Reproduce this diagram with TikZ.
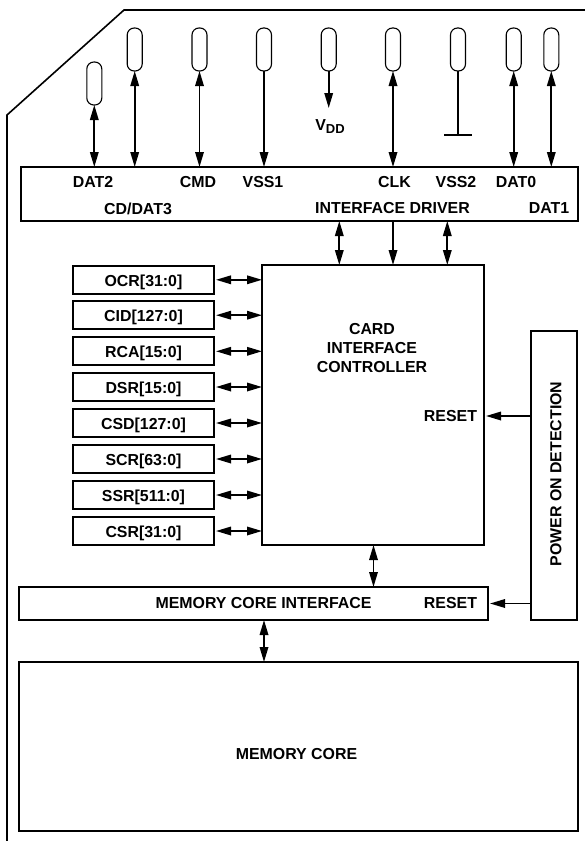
\documentclass[tikz,border=0pt]{standalone}
\usepackage{fontspec}
\setmainfont{Liberation Sans}
\usetikzlibrary{arrows.meta}
\tikzset{
  blockbox/.style={draw=black, fill=white, line width=1.7pt, rectangle, inner sep=0pt, outer sep=0pt},
  pinbox/.style={draw=black, fill=white, line width=1.1pt, rectangle, rounded corners=7pt, minimum width=15pt, minimum height=43pt, inner sep=0pt, outer sep=0pt},
  regbox/.style={blockbox, minimum width=141pt, minimum height=28pt, text height=13pt, text depth=0pt, font=\fontsize{15.9}{19}\selectfont\bfseries},
  lbl/.style={inner sep=0pt, align=center, font=\fontsize{15.9}{19}\selectfont\bfseries},
  conn/.style={line width=1.7pt, -{Triangle[length=15pt,width=8.5pt]}},
  biconn/.style={line width=1.7pt, {Triangle[length=15pt,width=8.5pt]}-{Triangle[length=15pt,width=8.5pt]}},
  wire/.style={line width=1.7pt}
}
\begin{document}
\begin{tikzpicture}[x=1pt,y=-1pt]
  \useasboundingbox (0,0) rectangle (585,841);
  % Card outline
  \draw[line width=1.6pt] (7,841) -- (7,115) -- (124,10) -- (585,10);
  % Interface driver (top)
  \node[blockbox, minimum width=557pt, minimum height=54pt] (driver) at (299.5,194) {};
  \node[lbl] (dat2lbl) at (93,182) {DAT2};
  \node[lbl] (cmdlbl) at (198,182) {CMD};
  \node[lbl] (vss1lbl) at (263,182) {VSS1};
  \node[lbl] (clklbl) at (394.5,182) {CLK};
  \node[lbl] (vss2lbl) at (456,182) {VSS2};
  \node[lbl] (dat0lbl) at (516,182) {DAT0};
  \node[lbl] (dat3lbl) at (138,208.5) {CD/DAT3};
  \node[lbl] (driverlbl) at (392.5,208.5) {INTERFACE DRIVER};
  \node[lbl] (dat1lbl) at (549,208.5) {DAT1};
  % Pins
  \node[pinbox] (dat2pin) at (94.3,83.5) {};
  \node[pinbox] (dat3pin) at (134.7,49.5) {};
  \node[pinbox] (cmdpin) at (199.5,49.5) {};
  \node[pinbox] (vss1pin) at (264,49.5) {};
  \node[pinbox] (vddpin) at (328.7,49.5) {};
  \node[pinbox] (clkpin) at (393,49.5) {};
  \node[pinbox] (vss2pin) at (458,49.5) {};
  \node[pinbox] (dat0pin) at (513.7,49.5) {};
  \node[pinbox] (dat1pin) at (551.3,49.5) {};
  % Pin connections
  \draw[biconn] (dat2pin.south) -- (driver.north -| dat2pin);
  \draw[biconn] (dat3pin.south) -- (driver.north -| dat3pin);
  \draw[biconn] (cmdpin.south) -- (driver.north -| cmdpin);
  \draw[conn] (vss1pin.south) -- (driver.north -| vss1pin);
  \draw[biconn] (clkpin.south) -- (driver.north -| clkpin);
  \draw[biconn] (dat0pin.south) -- (driver.north -| dat0pin);
  \draw[biconn] (dat1pin.south) -- (driver.north -| dat1pin);
  % VDD and ground
  \node[lbl] (vddlbl) at (330,127) {V\raisebox{-3pt}{\fontsize{13}{13}\selectfont DD}};
  \coordinate (vddtip) at (328.7,108);
  \draw[conn] (vddpin.south) -- (vddtip);
  \coordinate (gndmid) at (458,135.3);
  \coordinate (gndleft) at (444,135.3);
  \coordinate (gndright) at (472,135.3);
  \draw[wire] (vss2pin.south) -- (gndmid);
  \draw[wire] (gndleft) -- (gndright);
  % Controller (centre)
  \node[blockbox, minimum width=222pt, minimum height=280pt] (ctrl) at (373,405) {};
  \node[lbl] (ctrllbl) at (372,348) {CARD\\INTERFACE\\CONTROLLER};
  \node[lbl] (ctrlrst) at (450.5,416) {RESET};
  \coordinate (ctrla) at (339.3,265);
  \coordinate (ctrlb) at (393,265);
  \coordinate (ctrlc) at (447.3,265);
  \draw[biconn] (driver.south -| ctrla) -- (ctrla);
  \draw[conn] (driver.south -| ctrlb) -- (ctrlb);
  \draw[biconn] (driver.south -| ctrlc) -- (ctrlc);
  % Registers (left)
  \node[regbox] (ocr) at (143.5,279.8) {OCR[31:0]};
  \node[regbox] (cid) at (143.5,315.2) {CID[127:0]};
  \node[regbox] (rca) at (143.5,351.3) {RCA[15:0]};
  \node[regbox] (dsr) at (143.5,387) {DSR[15:0]};
  \node[regbox] (csd) at (143.5,423) {CSD[127:0]};
  \node[regbox] (scr) at (143.5,459) {SCR[63:0]};
  \node[regbox] (ssr) at (143.5,495) {SSR[511:0]};
  \node[regbox] (csr) at (143.5,531) {CSR[31:0]};
  \draw[biconn, shorten <=2pt] (ocr.east) -- (ocr.east -| ctrl.west);
  \draw[biconn, shorten <=2pt] (cid.east) -- (cid.east -| ctrl.west);
  \draw[biconn, shorten <=2pt] (rca.east) -- (rca.east -| ctrl.west);
  \draw[biconn, shorten <=2pt] (dsr.east) -- (dsr.east -| ctrl.west);
  \draw[biconn, shorten <=2pt] (csd.east) -- (csd.east -| ctrl.west);
  \draw[biconn, shorten <=2pt] (scr.east) -- (scr.east -| ctrl.west);
  \draw[biconn, shorten <=2pt] (ssr.east) -- (ssr.east -| ctrl.west);
  \draw[biconn, shorten <=2pt] (csr.east) -- (csr.east -| ctrl.west);
  % Power on detection (right)
  \node[blockbox, minimum width=46pt, minimum height=289pt] (power) at (553.7,475.5) {};
  \node[lbl, rotate=90] (powerlbl) at (556,474) {POWER ON DETECTION};
  \draw[conn, shorten >=2pt] (power.west |- ctrlrst) -- (ctrl.east |- ctrlrst);
  % Memory core interface and core (bottom)
  \node[blockbox, minimum width=469pt, minimum height=33pt] (mci) at (253.5,603.5) {};
  \node[lbl] (mcilbl) at (263.5,603.5) {MEMORY CORE INTERFACE};
  \node[lbl] (mcirst) at (450.5,603.5) {RESET};
  \node[blockbox, minimum width=559pt, minimum height=169pt] (core) at (298.5,746.5) {};
  \node[lbl] (corelbl) at (296.5,754) {MEMORY CORE};
  \draw[conn, shorten >=2pt] (power.west |- mci) -- (mci.east);
  \coordinate (mcitop) at (373.5,587);
  \coordinate (coretop) at (264,662);
  \draw[biconn] (ctrl.south -| mcitop) -- (mcitop);
  \draw[biconn] (mci.south -| coretop) -- (coretop);
\end{tikzpicture}
\end{document}
